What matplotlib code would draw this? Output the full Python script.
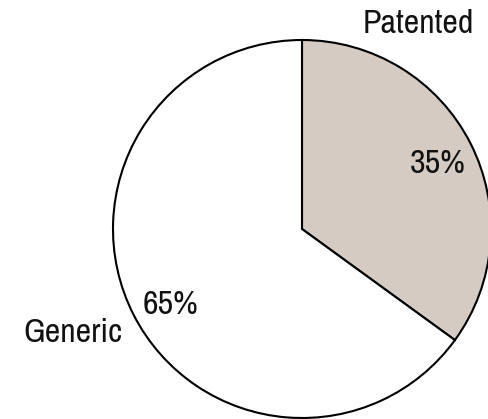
import matplotlib
matplotlib.use('Agg')
import matplotlib.pyplot as plt

# 专利药 / 仿制药 占比
labels = ['Patented', 'Generic']
shares = [35, 65]
colors = ['#D5CBC3', '#FFFFFF']

# 标签位置（像素坐标，原点在左下）
label_pos = [(418.5, 395.5), (73, 86.5)]
pct_pos = [(438, 255.5), (170, 114.5)]

plt.rcParams['font.family'] = ['Archivo Narrow', 'Liberation Sans', 'DejaVu Sans']

W, H = 489, 419
fig = plt.figure(figsize=(W / 100, H / 100), dpi=100)
ax = fig.add_axes([0, 0, 1, 1])

wedges, texts, autotexts = ax.pie(
    shares, labels=labels, colors=colors,
    autopct=lambda p: f'{p:.0f}%',
    startangle=90, counterclock=False,
    center=(302, 190), radius=189, frame=True,
    wedgeprops=dict(edgecolor='black', linewidth=1.5),
    textprops=dict(fontsize=24.5, color='#111111'),
)
ax.set_xlim(0, W)
ax.set_ylim(0, H)
ax.set_aspect('equal')
ax.axis('off')

for t, (x, y) in zip(texts, label_pos):
    t.set_position((x, y))
    t.set_ha('center'); t.set_va('center')
for t, (x, y) in zip(autotexts, pct_pos):
    t.set_position((x, y))
    t.set_ha('center'); t.set_va('center')

plt.savefig('out.png', dpi=100)
